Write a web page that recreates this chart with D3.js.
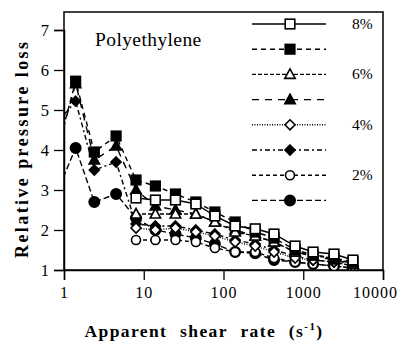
<!DOCTYPE html>
<html>
<head>
<meta charset="utf-8">
<script src="https://cdn.jsdelivr.net/npm/d3@7/dist/d3.min.js"></script>
<style>
  html, body { margin: 0; padding: 0; background: #fff; }
  svg { display: block; }
  svg text { font-family: "Liberation Serif", "Times New Roman", Times, "DejaVu Serif", serif; }
</style>
</head>
<body>
<svg id="chart" width="406" height="344"></svg>
<script>
// Shear rates (1/s) for the filled-marker series and the open-marker series
const ratesFilled = [0.8, 1.4, 2.4, 4.5, 8, 14, 25, 45, 78, 140, 250, 430, 790, 1330, 2430, 4200];
const ratesOpen   = [8, 14, 25, 45, 78, 140, 250, 430, 790, 1330, 2430, 4200];

// Relative pressure loss
const open8   = [2.8, 2.75, 2.75, 2.65, 2.35, 2.1, 2.03, 1.9, 1.6, 1.45, 1.4, 1.25];
const filled8 = [3.9, 5.72, 3.95, 4.35, 3.25, 3.1, 2.9, 2.7, 2.45, 2.2, 1.95, 1.8, 1.5, 1.38, 1.3, 1.2];
const open6   = [2.4, 2.4, 2.4, 2.4, 2.2, 1.95, 1.85, 1.7, 1.45, 1.35, 1.3, 1.15];
const filled6 = [3.9, 5.66, 3.75, 4.1, 3.0, 2.6, 2.5, 2.4, 2.2, 2.0, 1.85, 1.7, 1.45, 1.35, 1.25, 1.15];
const open4   = [2.05, 2.0, 2.05, 1.95, 1.85, 1.7, 1.6, 1.45, 1.3, 1.25, 1.2, 1.1];
const filled4 = [4.65, 5.22, 3.5, 3.7, 2.15, 2.1, 2.1, 2.0, 1.9, 1.75, 1.65, 1.5, 1.35, 1.25, 1.2, 1.1];
const open2   = [1.75, 1.75, 1.75, 1.7, 1.55, 1.45, 1.45, 1.3, 1.2, 1.15, 1.1, 1.05];
const filled2 = [2.9, 4.05, 2.7, 2.9, 2.3, 2.0, 1.9, 1.8, 1.65, 1.45, 1.42, 1.25, 1.2, 1.15, 1.1, 1.05];

const xTicks = [1, 10, 100, 1000, 10000];
const yTicks = [1, 2, 3, 4, 5, 6, 7];

const series = [
  { label: "8%", rates: ratesOpen,   values: open8,   shape: "square",   fill: false, dash: null },
  { label: "",   rates: ratesFilled, values: filled8, shape: "square",   fill: true,  dash: "5,4" },
  { label: "6%", rates: ratesOpen,   values: open6,   shape: "triangle", fill: false, dash: "4,2" },
  { label: "",   rates: ratesFilled, values: filled6, shape: "triangle", fill: true,  dash: "7,6" },
  { label: "4%", rates: ratesOpen,   values: open4,   shape: "diamond",  fill: false, dash: "1,1.5" },
  { label: "",   rates: ratesFilled, values: filled4, shape: "diamond",  fill: true,  dash: "5,3,2,3" },
  { label: "2%", rates: ratesOpen,   values: open2,   shape: "circle",   fill: false, dash: "4,3" },
  { label: "",   rates: ratesFilled, values: filled2, shape: "circle",   fill: true,  dash: "6,3" }
];

const SERIF = "Liberation Serif";
const svg = d3.select("#chart");
const plotLeft = 64, plotRight = 383, plotTop = 12, plotBottom = 270;

const x = d3.scaleLog().domain([1, 10000]).range([plotLeft, plotRight]);
const y = d3.scaleLinear().domain([1, 7]).range([plotBottom, 30]);

svg.append("defs").append("clipPath").attr("id", "plotClip")
  .append("rect").attr("x", plotLeft).attr("y", plotTop)
  .attr("width", plotRight - plotLeft).attr("height", plotBottom - plotTop);

// frame
svg.append("rect")
  .attr("x", plotLeft).attr("y", plotTop).attr("width", plotRight - plotLeft).attr("height", plotBottom - plotTop)
  .attr("fill", "none").attr("stroke", "#000").attr("stroke-width", 1.5);

// axes
const xAxis = d3.axisBottom(x).tickValues(xTicks).tickFormat(d3.format("d")).tickSize(10).tickPadding(7);
const gx = svg.append("g").attr("transform", `translate(0,${plotBottom})`).call(xAxis)
  .attr("font-family", SERIF).attr("font-size", 16);
gx.select(".domain").attr("stroke-width", 1.5);
gx.selectAll(".tick line").attr("stroke-width", 1.3);
gx.selectAll(".tick text").style("font-family", SERIF).attr("letter-spacing", 1)
  .attr("dx", d => d === 10000 ? -8 : 0);

const yAxis = d3.axisLeft(y).tickValues(yTicks).tickFormat(d3.format("d")).tickSize(10).tickPadding(5);
const gy = svg.append("g").attr("transform", `translate(${plotLeft},0)`).call(yAxis)
  .attr("font-family", SERIF).attr("font-size", 16.5);
gy.select(".domain").attr("stroke-width", 1.5);
gy.selectAll(".tick line").attr("stroke-width", 1.3);
gy.selectAll(".tick text").style("font-family", SERIF);

// marker shapes
function marker(g, shape, fill, cx, cy) {
  const col = fill ? "#000" : "#fff";
  if (shape === "square") {
    g.append("rect").attr("x", cx - 4.8).attr("y", cy - 4.8).attr("width", 9.6).attr("height", 9.6)
      .attr("fill", col).attr("stroke", "#000").attr("stroke-width", 1.6);
  } else if (shape === "triangle") {
    g.append("path").attr("d", `M${cx},${cy - 5.5}L${cx + 5.2},${cy + 4}L${cx - 5.2},${cy + 4}Z`)
      .attr("fill", col).attr("stroke", "#000").attr("stroke-width", 1.6);
  } else if (shape === "diamond") {
    g.append("path").attr("d", `M${cx},${cy - 5}L${cx + 5},${cy}L${cx},${cy + 5}L${cx - 5},${cy}Z`)
      .attr("fill", col).attr("stroke", "#000").attr("stroke-width", 1.6);
  } else {
    g.append("circle").attr("cx", cx).attr("cy", cy).attr("r", fill ? 5.2 : 4.5)
      .attr("fill", col).attr("stroke", "#000").attr("stroke-width", 1.6);
  }
}

const line = d3.line().x(d => x(d[0])).y(d => y(d[1]));
const plot = svg.append("g").attr("clip-path", "url(#plotClip)");

// draw from bottom to top so the 8% curves sit on top
series.slice().reverse().forEach(s => {
  const pts = s.rates.map((r, i) => [r, s.values[i]]);
  const g = plot.append("g");
  g.append("path").attr("d", line(pts)).attr("fill", "none").attr("stroke", "#000")
    .attr("stroke-width", 1.4).attr("stroke-dasharray", s.dash);
  pts.forEach(p => marker(g, s.shape, s.fill, x(p[0]), y(p[1])));
});

// legend
const legend = svg.append("g");
series.forEach((s, i) => {
  const ly = 24 + i * 25.2;
  legend.append("line").attr("x1", 252).attr("x2", 326).attr("y1", ly).attr("y2", ly)
    .attr("stroke", "#000").attr("stroke-width", 1.4).attr("stroke-dasharray", s.dash);
  marker(legend, s.shape, s.fill, 290, ly);
  if (s.label) {
    legend.append("text").attr("x", 352).attr("y", ly + 5).attr("font-size", 15.5)
      .style("font-family", SERIF).text(s.label);
  }
});

// title inside the plot
svg.append("text").attr("x", 95).attr("y", 46).attr("font-size", 19.5).attr("letter-spacing", 0.4)
  .style("font-family", SERIF).text("Polyethylene");

// axis titles
svg.append("text")
  .attr("transform", "translate(28,150) rotate(-90)")
  .attr("text-anchor", "middle")
  .style("font-family", SERIF)
  .attr("font-weight", "bold").attr("font-size", 18)
  .attr("textLength", 216).attr("lengthAdjust", "spacing")
  .text("Relative pressure loss");

const xt = svg.append("text").attr("x", 204).attr("y", 337).attr("text-anchor", "middle")
  .style("font-family", SERIF)
  .attr("font-weight", "bold").attr("font-size", 17.5).attr("letter-spacing", 1.4).attr("word-spacing", 7);
xt.append("tspan").text("Apparent shear rate (s");
xt.append("tspan").attr("dy", -7).attr("font-size", 11).text("-1");
xt.append("tspan").attr("dy", 7).text(")");
</script>
</body>
</html>
